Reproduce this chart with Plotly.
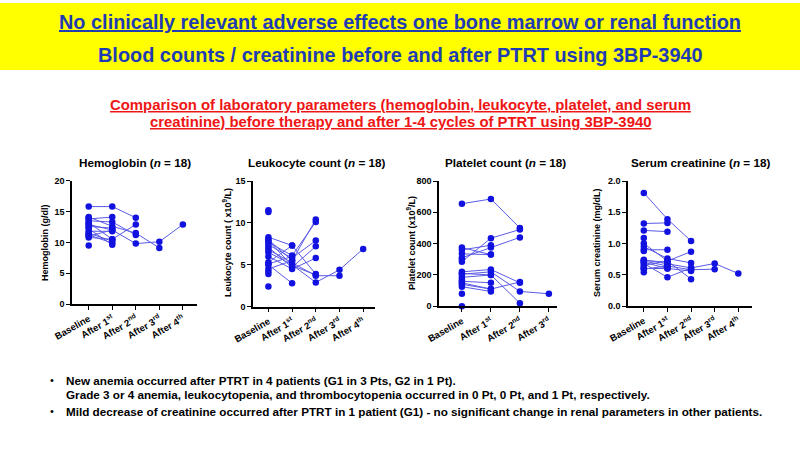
import plotly.graph_objects as go

# ---------------- data ----------------
timepoints = ["Baseline", "After 1<sup>st</sup>", "After 2<sup>nd</sup>", "After 3<sup>rd</sup>", "After 4<sup>th</sup>"]

# each row = one patient: [Baseline, After 1st, After 2nd, After 3rd, After 4th]
hemoglobin = [
    [15.8, 15.8, 14.0],
    [14.1, 12.6, 11.5, 9.1],
    [13.8, 14.1],
    [13.5, 13.3, 11.2],
    [13.2, 10.5, 12.9],
    [12.9, 12.0, 9.8, 10.1, 12.9],
    [12.6, 12.3],
    [12.2, 9.6],
    [11.8, 11.8],
    [11.5, 10.2],
    [11.2, 9.9],
    [11.0, 12.0],
    [10.8, 10.5],
    [9.5],
    [13.0],
    [12.4],
    [11.3],
    [14.0],
]

leukocytes = [
    [11.5],
    [11.3],
    [8.3, 7.3, 3.9],
    [8.0, 5.5, 10.4],
    [7.7, 6.1, 10.1],
    [7.4, 5.8, 7.9],
    [7.1, 4.7, 7.2],
    [6.8, 5.2, 3.7, 3.7],
    [6.5, 5.0, 2.9, 4.4, 6.9],
    [6.0, 4.5, 5.8],
    [5.3, 7.3],
    [5.0, 2.8],
    [4.5, 5.5],
    [4.2],
    [3.9],
    [2.4],
    [5.1, 6.0],
    [7.9, 4.9, 3.8],
]

platelets = [
    [655, 685, 500],
    [285, 435, 490],
    [310, 375, 440],
    [335, 330],
    [360, 390],
    [375, 330],
    [220, 235, 150],
    [205, 220, 95, 80],
    [185, 200, 20],
    [160, 150],
    [140, 110, 155],
    [125, 95],
    [80],
    [0],
    [210, 200],
    [150, 110],
    [300],
    [170],
]

creatinine = [
    [1.81, 1.39, 1.04],
    [1.32, 1.33],
    [1.21, 1.19],
    [1.09],
    [1.00, 0.72, 0.87],
    [0.90, 0.90],
    [0.95, 0.76, 0.69],
    [0.74, 0.67, 0.61, 0.68, 0.52],
    [0.72, 0.64, 0.58, 0.59],
    [0.70, 0.60, 0.56],
    [0.68, 0.46, 0.61],
    [0.65, 0.72, 0.43],
    [0.60, 0.60],
    [0.59, 0.64],
    [0.54],
    [0.88],
    [0.62],
    [0.73, 0.70],
]

panel_titles = ["Hemoglobin (<i>n</i> = 18)", "Leukocyte count (<i>n</i> = 18)",
                "Platelet count (<i>n</i> = 18)", "Serum creatinine (<i>n</i> = 18)"]
axis_titles = ["Hemoglobin (g/dl)", "Leukocyte count ( x10<sup>9</sup>/L)",
               "Platelet count (x10<sup>9</sup>/L)", "Serum creatinine (mg/dL)"]
y_ticks = [[0, 5, 10, 15, 20], [0, 5, 10, 15], [0, 200, 400, 600, 800],
           [0.0, 0.5, 1.0, 1.5, 2.0]]
y_ticktext = [["0", "5", "10", "15", "20"], ["0", "5", "10", "15"],
              ["0", "200", "400", "600", "800"], ["0.0", "0.5", "1.0", "1.5", "2.0"]]
n_timepoints = [5, 5, 4, 5]

title_line1 = "No clinically relevant adverse effects one bone marrow or renal function"
title_line2 = "Blood counts / creatinine before and after PTRT using 3BP-3940"
sub_line1 = "Comparison of laboratory parameters (hemoglobin, leukocyte, platelet, and serum"
sub_line2 = "creatinine) before therapy and after 1-4 cycles of PTRT using 3BP-3940"
bullets = [
    "New anemia occurred after PTRT in 4 patients (G1 in 3 Pts, G2 in 1 Pt).",
    "Grade 3 or 4 anemia, leukocytopenia, and thrombocytopenia occurred in 0 Pt, 0 Pt, and 1 Pt, respectively.",
    "Mild decrease of creatinine occurred after PTRT in 1 patient (G1) - no significant change in renal parameters in other patients.",
]

# ---------------- layout geometry (pixels) ----------------
W, H = 800, 450
datasets = [hemoglobin, leukocytes, platelets, creatinine]
# (axis_left_px, axis_right_px, top_px, bottom_px, x_range)
geo = [
    (72, 197, 180.7, 304, [-0.71, 4.6]),
    (253, 375, 181, 306.7, [-0.65, 4.5]),
    (439, 557, 181, 306.3, [-0.79, 3.28]),
    (628, 752, 181, 306, [-0.67, 4.58]),
]
title_cx = [135, 316, 505, 700]
axis_title_x = [45, 227, 411, 597]
y_ranges = [[0, 20], [0, 15], [0, 800], [0, 2.0]]

MARKER = "#1212e0"
LINE = "#5a5ae6"
FONT = "Liberation Sans, Arial, sans-serif"

fig = go.Figure()
annotations = []
layout_axes = {}

for i, data in enumerate(datasets):
    xs, ys = [], []
    for row in data:
        for j, v in enumerate(row):
            xs.append(j)
            ys.append(v)
        xs.append(None)
        ys.append(None)
    sfx = "" if i == 0 else str(i + 1)
    fig.add_trace(go.Scatter(
        x=xs, y=ys, mode="lines+markers",
        line=dict(color=LINE, width=1),
        marker=dict(color=MARKER, size=6.5),
        xaxis="x" + sfx, yaxis="y" + sfx, cliponaxis=False,
        showlegend=False, hoverinfo="skip",
    ))
    l, r, t, b, xr = geo[i]
    layout_axes["xaxis" + sfx] = dict(
        domain=[l / W, r / W], range=xr, anchor="y" + sfx, automargin=False,
        tickvals=list(range(n_timepoints[i])), ticktext=timepoints[:n_timepoints[i]],
        tickangle=-30, ticks="outside", ticklen=4, tickwidth=1.2, tickcolor="black",
        showline=True, linecolor="black", linewidth=1.5, showgrid=False, zeroline=False,
        tickfont=dict(family=FONT, size=9.5, color="black", weight="bold"),
    )
    layout_axes["yaxis" + sfx] = dict(
        domain=[1 - b / H, 1 - t / H], range=y_ranges[i], anchor="x" + sfx, automargin=False,
        tickvals=y_ticks[i], ticktext=y_ticktext[i],
        ticks="outside", ticklen=4, tickwidth=1.2, tickcolor="black",
        showline=True, linecolor="black", linewidth=1.5, showgrid=False, zeroline=False,
        tickfont=dict(family=FONT, size=9, color="black", weight="bold"),
    )
    annotations.append(dict(
        text="<b>" + panel_titles[i] + "</b>", x=title_cx[i] / W, y=1 - 162 / H,
        xref="paper", yref="paper", showarrow=False, xanchor="center", yanchor="middle",
        font=dict(family=FONT, size=11.7, color="black"),
    ))
    annotations.append(dict(
        text="<b>" + axis_titles[i] + "</b>", x=axis_title_x[i] / W, y=1 - 243 / H,
        xref="paper", yref="paper", showarrow=False, xanchor="center", yanchor="middle",
        textangle=-90, font=dict(family=FONT, size=9, color="black"),
    ))

# header texts
header = [
    ("<b><u>" + title_line1 + "</u></b>", 22, 19.9, "#1f3cb4"),
    ("<b>" + title_line2 + "</b>", 55, 19.9, "#1f3cb4"),
    ("<b><u>" + sub_line1 + "</u></b>", 105, 14.9, "#ee1515"),
    ("<b><u>" + sub_line2 + "</u></b>", 122, 14.9, "#ee1515"),
]
for txt, ypx, fs, col in header:
    annotations.append(dict(text=txt, x=0.5, y=1 - ypx / H, xref="paper", yref="paper",
                            showarrow=False, xanchor="center", yanchor="middle",
                            font=dict(family=FONT, size=fs, color=col)))

# bullets
bullet_y = [380, 394.5, 411]
for k, txt in enumerate(bullets):
    annotations.append(dict(text="<b>" + txt + "</b>", x=64 / W, y=1 - bullet_y[k] / H,
                            xref="paper", yref="paper", showarrow=False,
                            xanchor="left", yanchor="middle",
                            font=dict(family=FONT, size=11.7, color="black")))
for k in (0, 2):
    annotations.append(dict(text="•", x=48 / W, y=1 - bullet_y[k] / H,
                            xref="paper", yref="paper", showarrow=False,
                            xanchor="left", yanchor="middle",
                            font=dict(family=FONT, size=11, color="black")))

fig.update_layout(
    width=W, height=H, margin=dict(l=0, r=0, t=0, b=0),
    paper_bgcolor="white", plot_bgcolor="white",
    annotations=annotations,
    shapes=[dict(type="rect", xref="paper", yref="paper", x0=0, x1=1,
                 y0=1 - 70 / H, y1=1 - 3 / H, fillcolor="#ffff00",
                 line=dict(width=0), layer="below")],
    **layout_axes,
)

fig.write_html("out.html", config={"displayModeBar": False},
               post_script="document.body.style.margin='0';")
